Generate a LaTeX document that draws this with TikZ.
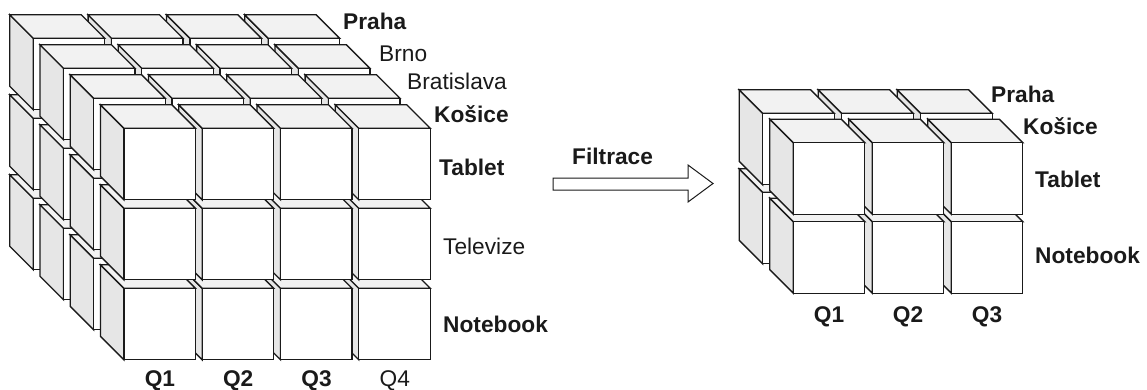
\documentclass[tikz,border=0pt]{standalone}
\usepackage{fontspec}
\setmainfont{Liberation Sans}
\definecolor{sidegray}{HTML}{E6E6E6}
\definecolor{topgray}{HTML}{F2F2F2}
\definecolor{inkc}{HTML}{1A1A1A}
\tikzset{
  cubeline/.style={draw=inkc, line width=1.3pt, line join=miter},
  frontface/.style={cubeline, fill=white},
  sideface/.style={cubeline, fill=sidegray},
  topface/.style={cubeline, fill=topgray},
  lbl/.style={inner sep=0pt, text=inkc, font=\fontsize{22.7}{27}\selectfont},
  blbl/.style={inner sep=0pt, text=inkc, font=\fontsize{22.7}{27}\selectfont\bfseries},
  hollowarrow/.style={draw=inkc, line width=1pt, fill=white, line join=miter},
}
\newcommand\cubeat[2]{%
  \draw[sideface] (#1,#2) -- ++(-23.5,-23.5) -- ++(0,71.5) -- ++(23.5,23.5) -- cycle;
  \draw[topface] (#1,#2) -- ++(-23.5,-23.5) -- ++(71.5,0) -- ++(23.5,23.5) -- cycle;
  \draw[frontface] (#1,#2) rectangle ++(71.5,71.5);
}
\begin{document}
\begin{tikzpicture}[x=1pt,y=-1pt]
\useasboundingbox (0,0) rectangle (1147,389);
% left cube: 4 layers x 3 rows x 4 columns
\foreach \l in {0,1,2,3}{
  \foreach \r in {2,1,0}{
    \foreach \c in {3,2,1,0}{
      \pgfmathsetmacro\cx{33.3+30.2*\l+78.3*\c}
      \pgfmathsetmacro\cy{38.3+30*\l+80*\r}
      \cubeat{\cx}{\cy}
    }
  }
}
% right cube: 2 layers x 2 rows x 3 columns
\foreach \l in {0,1}{
  \foreach \r in {1,0}{
    \foreach \c in {2,1,0}{
      \pgfmathsetmacro\cx{762.7+30.6*\l+79*\c}
      \pgfmathsetmacro\cy{113.3+29.4*\l+79*\r}
      \cubeat{\cx}{\cy}
    }
  }
}
% left labels
\node[blbl, anchor=base west] (lpraha) at (343,29) {Praha};
\node[lbl, anchor=base west] (lbrno) at (379,61) {Brno};
\node[lbl, anchor=base west] (lbrat) at (407,89) {Bratislava};
\node[blbl, anchor=base west] (lkos) at (434,122) {Košice};
\node[blbl, anchor=base west] (ltab) at (439,175) {Tablet};
\node[lbl, anchor=base west] (ltel) at (443,254) {Televize};
\node[blbl, anchor=base west] (lnot) at (443,332) {Notebook};
\node[blbl, anchor=base] (lq1) at (159.9,386.5) {Q1};
\node[blbl, anchor=base] (lq2) at (238.2,386.5) {Q2};
\node[blbl, anchor=base] (lq3) at (316.5,386.5) {Q3};
\node[lbl, anchor=base] (lq4) at (394.8,386.5) {Q4};
% arrow
\draw[hollowarrow] (553,178) -- (688,178) -- (688,165) -- (713,183.5) -- (688,202) -- (688,190) -- (553,190) -- cycle;
\node[blbl, anchor=base west] (filt) at (572,164) {Filtrace};
% right labels
\node[blbl, anchor=base west] (rpraha) at (991,102) {Praha};
\node[blbl, anchor=base west] (rkos) at (1023,134) {Košice};
\node[blbl, anchor=base west] (rtab) at (1035,187) {Tablet};
\node[blbl, anchor=base west] (rnot) at (1035,263) {Notebook};
\node[blbl, anchor=base] (rq1) at (829,322) {Q1};
\node[blbl, anchor=base] (rq2) at (908,322) {Q2};
\node[blbl, anchor=base] (rq3) at (987,322) {Q3};
\end{tikzpicture}
\end{document}
